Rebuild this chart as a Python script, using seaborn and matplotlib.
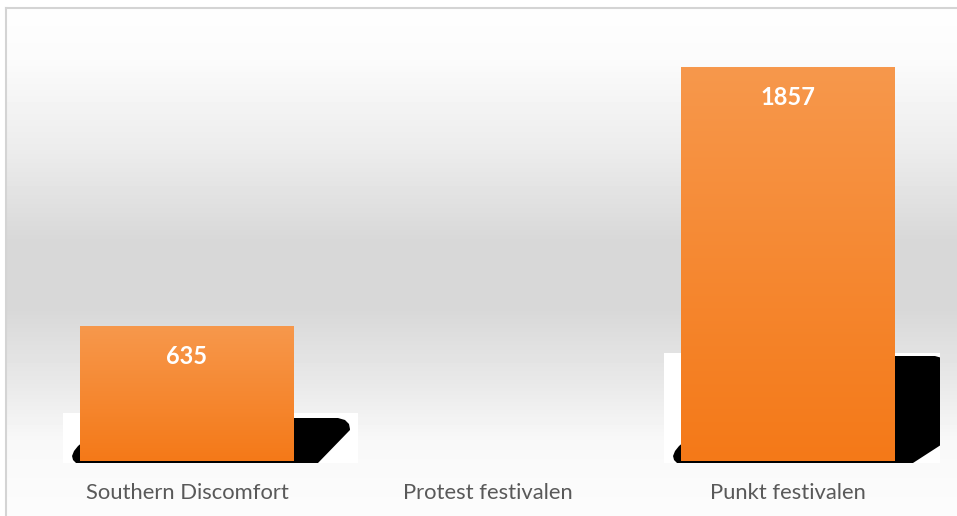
import numpy as np
import pandas as pd
import matplotlib.pyplot as plt
import seaborn as sns
from matplotlib.patches import Rectangle, Polygon


festivals = ['Southern Discomfort', 'Protest festivalen', 'Punkt festivalen']
visitors = [635, 0, 1857]

# shadow look per bar, in pixels: (black height, white height, white right, black right, slant dx, slant dy)
shadow_style = [(43, 48, 64, 56, 32, 31), (0, 0, 0, 0, 0, 0), (105, 108, 45, 52, 34, 20)]

sns.set_style('white')
plt.rcParams['font.family'] = ['Lato', 'DejaVu Sans']

W, H = 957, 516
fig = plt.figure(figsize=(W / 100, H / 100), dpi=100)

# gray band background with a thin frame at left and top
bg = fig.add_axes([6 / W, 0, 1 - 6 / W, 1 - 8 / H])
stop_px = [8, 60, 150, 240, 310, 380, 440, 516]
levels = [254, 251, 236, 216, 216, 232, 248, 252]
stops = [(p - 8) / 508 for p in stop_px]
grad = np.interp(np.linspace(0, 1, 508), stops, levels) / 255
bg.imshow(np.repeat(grad[:, None], 20, axis=1), aspect='auto', cmap='gray',
          vmin=0, vmax=1, interpolation='nearest')
bg.set_xticks([])
bg.set_yticks([])
for side in ['right', 'bottom']:
    bg.spines[side].set_visible(False)
for side in ['left', 'top']:
    bg.spines[side].set_color('#d4d4d4')
    bg.spines[side].set_linewidth(1.5)

ax_pos = [36.75 / W, 55 / H, 901.5 / W, 424 / H]
ax = fig.add_axes(ax_pos)
ax.patch.set_alpha(0)

df = pd.DataFrame({'festival': festivals, 'visitors': visitors})
sns.barplot(data=df, x='festival', y='visitors', width=0.712, color='#f5801f',
            linewidth=0, ax=ax, zorder=3)

ax.set_xlim(-0.5, 2.5)
ax.set_ylim(0, 2000)

# pixel -> data units
px_x = 3 / (ax_pos[2] * W)
px_y = 2000 / (ax_pos[3] * H)

top_c = np.array([247, 152, 76]) / 255
bot_c = np.array([244, 121, 24]) / 255
fade = np.linspace(0, 1, 200)[:, None]
bar_img = (top_c * (1 - fade) + bot_c * fade)[:, None, :]

for bar, val, st in zip(list(ax.patches), visitors, shadow_style):
    if val <= 0:
        continue
    L = bar.get_x()
    R = L + bar.get_width()
    hb, hw, rw, rb, sdx, sdy = st

    white = Rectangle((L - 17 * px_x, -2 * px_y), (R - L) + (17 + rw) * px_x, (hw + 2) * px_y,
                      facecolor='white', edgecolor='none', zorder=1, clip_on=False)
    ax.add_patch(white)

    # (anchor, dx px, dy px)
    pts = [(L, -4, -2), (L, -7, 1), (L, -8, 5), (L, -6, 10), (L, -2, 15), (L, 4, 20), (L, 10, hb),
           (R, rb - 12, hb), (R, rb - 5, hb - 2), (R, rb - 1, hb - 6), (R, rb, hb - 11),
           (R, rb, sdy), (R, rb - sdx, -2)]
    verts = [(a + dx * px_x, dy * px_y) for a, dx, dy in pts]
    black = Polygon(verts, closed=True, facecolor='black', edgecolor='none', zorder=2)
    ax.add_patch(black)
    black.set_clip_path(white)
    black.set_clip_on(True)

    ax.imshow(bar_img, extent=(L, R, 0, val), aspect='auto', zorder=3.5, interpolation='bilinear')
    bar.set_facecolor('none')
    bar.set_edgecolor('none')

    ax.text((L + R) / 2, val - 30 * px_y, str(val), ha='center', va='center',
            color='white', fontsize=17, fontweight='bold', zorder=5)

ax.set_xlim(-0.5, 2.5)
ax.set_ylim(0, 2000)
ax.set_xlabel('')
ax.set_ylabel('')
ax.set_yticks([])
ax.tick_params(axis='x', length=0, pad=16, labelsize=15.8, labelcolor='#595959')
sns.despine(ax=ax, left=True, bottom=True)

fig.savefig('out.png', dpi=100)
